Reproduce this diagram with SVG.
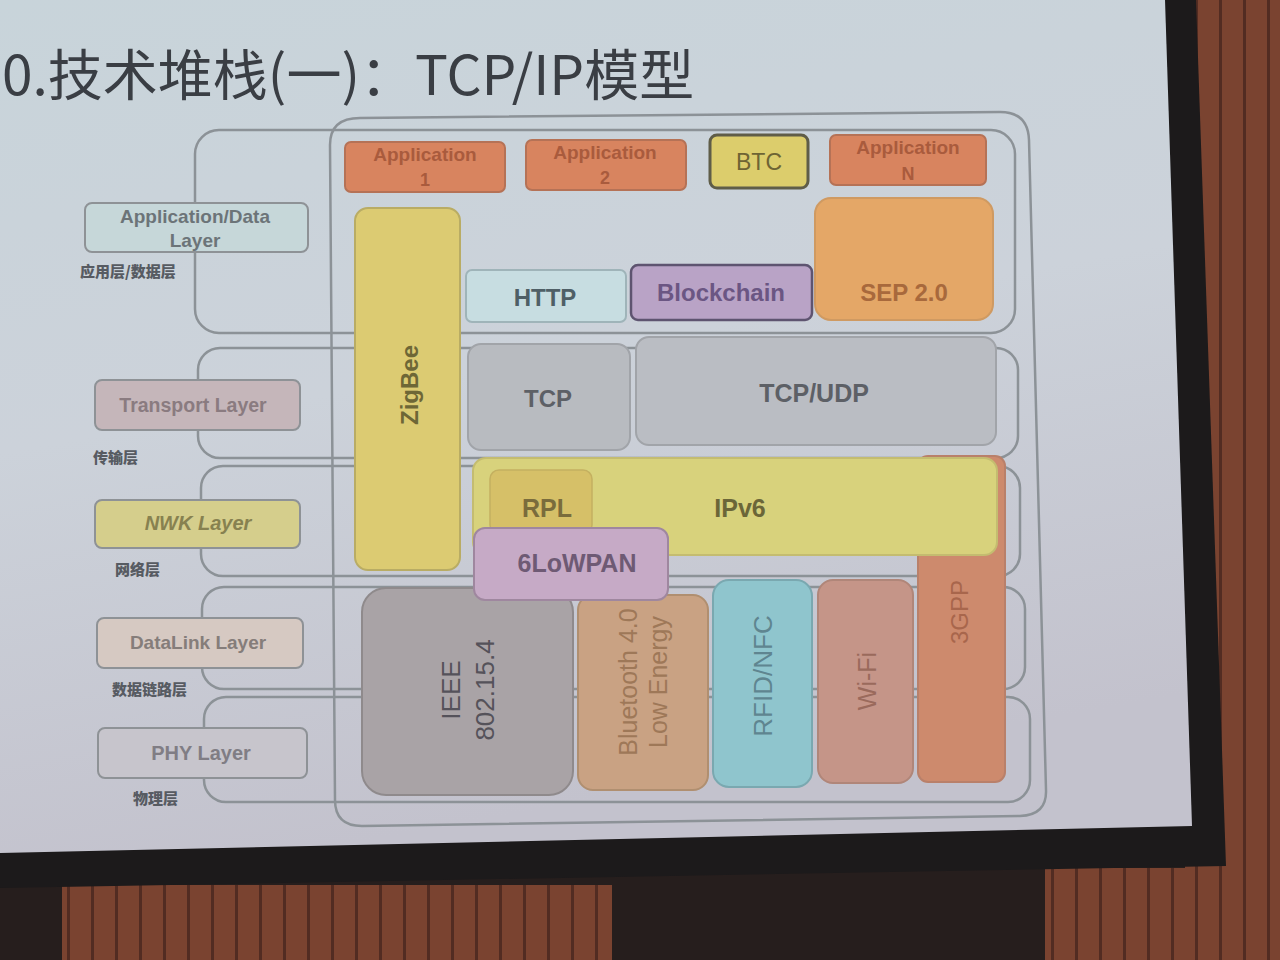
<svg xmlns="http://www.w3.org/2000/svg" width="1280" height="960" viewBox="0 0 1280 960">
<defs>
  <linearGradient id="slide" x1="0" y1="0" x2="0.25" y2="1">
    <stop offset="0" stop-color="#c8d4da"/>
    <stop offset="0.5" stop-color="#ccd2da"/>
    <stop offset="1" stop-color="#c3c2cd"/>
  </linearGradient>
  <pattern id="wood" width="24" height="10" patternUnits="userSpaceOnUse">
    <rect width="24" height="10" fill="#7a4330"/>
    <rect x="19" width="3" height="10" fill="#522c22"/>
  </pattern>
  <style>
    .band{fill:none;stroke:#8c9297;stroke-width:2.5}
    .lbl{stroke:#8e9296;stroke-width:2}
    .t{font-family:"Liberation Sans",Arial,sans-serif;font-weight:bold;text-anchor:middle}
    .r{font-family:"Liberation Sans",Arial,sans-serif;font-weight:normal;text-anchor:middle}
    .cn{font-family:"Noto Sans CJK SC",sans-serif;font-weight:900;font-size:15px;fill:#575b62}
  </style>
</defs>

<!-- room / screen frame -->
<rect width="1280" height="960" fill="#261e1d"/>
<rect x="1185" y="0" width="95" height="960" fill="url(#wood)"/>
<rect x="62" y="885" width="550" height="75" fill="url(#wood)"/>
<rect x="1045" y="868" width="235" height="92" fill="url(#wood)"/>
<polygon points="0,0 1196,0 1226,866 0,888" fill="#1c1a1b"/>
<polygon points="0,0 1165,0 1192,826 0,853" fill="url(#slide)"/>

<!-- title -->
<g id="title">
  <text x="2" y="95" font-family="Noto Sans CJK SC, sans-serif" font-size="55" fill="#3a3e44">0.技术堆栈(一)：TCP/IP模型</text>
</g>

<!-- outer frame and layer bands -->
<g id="connectors">
  <path class="band" d="M360,118 L1000,112 Q1028,112 1029,140 L1046,790 Q1047,815 1020,816 L362,826 Q335,826 335,800 L330,145 Q330,118 360,118 Z"/>
  <rect class="band" x="195" y="130" width="820" height="203" rx="24"/>
  <rect class="band" x="198" y="348" width="820" height="110" rx="22"/>
  <rect class="band" x="201" y="466" width="819" height="110" rx="22"/>
  <rect class="band" x="202" y="587" width="823" height="102" rx="22"/>
  <rect class="band" x="204" y="697" width="826" height="105" rx="22"/>
</g>

<!-- left layer labels -->
<g id="layer-app">
  <rect class="lbl" x="85" y="203" width="223" height="49" rx="7" fill="#c6d7d9"/>
  <text class="t" x="195" y="223" font-size="19" fill="#6c7478">Application/Data</text>
  <text class="t" x="195" y="247" font-size="19" fill="#6c7478">Layer</text>
  <text class="cn" x="80" y="277">应用层/数据层</text>
</g>
<g id="layer-transport">
  <rect class="lbl" x="95" y="380" width="205" height="50" rx="7" fill="#c5b6ba"/>
  <text class="t" x="193" y="412" font-size="19.5" fill="#8a7b80">Transport Layer</text>
  <text class="cn" x="93" y="463">传输层</text>
</g>
<g id="layer-nwk">
  <rect class="lbl" x="95" y="500" width="205" height="48" rx="7" fill="#d5ce8c"/>
  <text class="t" x="198" y="530" font-size="20" font-style="italic" fill="#878150">NWK Layer</text>
  <text class="cn" x="115" y="575">网络层</text>
</g>
<g id="layer-datalink">
  <rect class="lbl" x="97" y="618" width="206" height="50" rx="7" fill="#d6c9c2"/>
  <text class="t" x="198" y="649" font-size="19" fill="#857d7a">DataLink  Layer</text>
  <text class="cn" x="112" y="695">数据链路层</text>
</g>
<g id="layer-phy">
  <rect class="lbl" x="98" y="728" width="209" height="50" rx="7" fill="#c7c5cc"/>
  <text class="t" x="201" y="760" font-size="20" fill="#807d84">PHY Layer</text>
  <text class="cn" x="133" y="804">物理层</text>
</g>

<!-- application row -->
<g id="app1">
  <rect x="345" y="142" width="160" height="50" rx="6" fill="#d8845f" stroke="#b57256" stroke-width="2"/>
  <text class="t" x="425" y="161" font-size="19" fill="#a95b3d">Application</text>
  <text class="t" x="425" y="186" font-size="18" fill="#a95b3d">1</text>
</g>
<g id="app2">
  <rect x="526" y="140" width="160" height="50" rx="6" fill="#d8845f" stroke="#b57256" stroke-width="2"/>
  <text class="t" x="605" y="159" font-size="19" fill="#a95b3d">Application</text>
  <text class="t" x="605" y="184" font-size="18" fill="#a95b3d">2</text>
</g>
<g id="btc">
  <rect x="710" y="135" width="98" height="53" rx="7" fill="#dccd6c" stroke="#5f5d48" stroke-width="3"/>
  <text class="r" x="759" y="170" font-size="23" fill="#6e6434">BTC</text>
</g>
<g id="appN">
  <rect x="830" y="135" width="156" height="50" rx="6" fill="#d8845f" stroke="#b57256" stroke-width="2"/>
  <text class="t" x="908" y="154" font-size="19" fill="#a95b3d">Application</text>
  <text class="t" x="908" y="180" font-size="18" fill="#a95b3d">N</text>
</g>
<g id="sep">
  <rect x="815" y="198" width="178" height="122" rx="16" fill="#e4a767" stroke="#cf9a62" stroke-width="2"/>
  <text class="t" x="904" y="301" font-size="24" fill="#a8693c">SEP 2.0</text>
</g>
<g id="http">
  <rect x="466" y="270" width="160" height="52" rx="6" fill="#c7dde1" stroke="#9fb4b9" stroke-width="2"/>
  <text class="t" x="545" y="306" font-size="24" fill="#4f5f66">HTTP</text>
</g>
<g id="blockchain">
  <rect x="631" y="265" width="181" height="55" rx="7" fill="#b9a3c6" stroke="#5e5470" stroke-width="2.5"/>
  <text class="t" x="721" y="301" font-size="24" fill="#6b5683">Blockchain</text>
</g>

<!-- ZigBee -->
<g id="zigbee">
  <rect x="355" y="208" width="105" height="362" rx="13" fill="#dccb72" stroke="#b9ac64" stroke-width="2"/>
  <text class="t" transform="translate(418,385) rotate(-90)" font-size="24" fill="#6e6736">ZigBee</text>
</g>

<!-- transport -->
<g id="tcp">
  <rect x="468" y="344" width="162" height="106" rx="13" fill="#b8bbc0" stroke="#a1a4a9" stroke-width="2"/>
  <text class="t" x="548" y="407" font-size="24" fill="#5d6066">TCP</text>
</g>
<g id="tcpudp">
  <rect x="636" y="337" width="360" height="108" rx="13" fill="#babdc3" stroke="#a1a4a9" stroke-width="2"/>
  <text class="t" x="814" y="402" font-size="25" fill="#5d6066">TCP/UDP</text>
</g>

<!-- 3GPP -->
<g id="gpp3">
  <rect x="918" y="456" width="87" height="326" rx="10" fill="#cd8a6d" stroke="#b9806a" stroke-width="2"/>
  <text class="r" transform="translate(968,612) rotate(-90)" font-size="24" fill="#a8664c">3GPP</text>
</g>

<!-- network -->
<g id="ipv6">
  <rect x="473" y="458" width="524" height="97" rx="13" fill="#d8d27c" stroke="#c4bc70" stroke-width="2"/>
  <text class="t" x="740" y="517" font-size="25" fill="#6b6638">IPv6</text>
</g>
<g id="rpl">
  <rect x="490" y="470" width="102" height="64" rx="9" fill="#d6c068" stroke="#c4b060" stroke-width="1.5"/>
  <text class="t" x="547" y="517" font-size="25" fill="#7a6c3c">RPL</text>
</g>

<!-- link / phy -->
<g id="ieee">
  <rect x="362" y="588" width="211" height="207" rx="24" fill="#a9a3a6" stroke="#8f8a8c" stroke-width="2"/>
  <g transform="translate(468,690) rotate(-90)">
    <text class="r" x="0" y="-8" font-size="26" fill="#55525a">IEEE</text>
    <text class="r" x="0" y="26" font-size="26" fill="#55525a">802.15.4</text>
  </g>
</g>
<g id="bluetooth">
  <rect x="578" y="595" width="130" height="195" rx="15" fill="#c9a283" stroke="#b08f70" stroke-width="2"/>
  <g transform="translate(645,682) rotate(-90)">
    <text class="r" x="0" y="-8" font-size="25" fill="#9e7858">Bluetooth 4.0</text>
    <text class="r" x="0" y="22" font-size="25" fill="#9e7858">Low Energy</text>
  </g>
</g>
<g id="rfid">
  <rect x="713" y="580" width="99" height="207" rx="16" fill="#8fc5cd" stroke="#7aa8b0" stroke-width="2"/>
  <text class="r" transform="translate(772,676) rotate(-90)" font-size="26" fill="#5f8590">RFID/NFC</text>
</g>
<g id="wifi">
  <rect x="818" y="580" width="95" height="203" rx="15" fill="#c59588" stroke="#b08679" stroke-width="2"/>
  <text class="r" transform="translate(876,681) rotate(-90)" font-size="25" fill="#9a6a5c">Wi-Fi</text>
</g>

<g id="sixlowpan">
  <rect x="474" y="528" width="194" height="72" rx="11" fill="#c6aac6" stroke="#9f879f" stroke-width="2"/>
  <text class="t" x="577" y="572" font-size="25" fill="#6e5a74">6LoWPAN</text>
</g>
</svg>
